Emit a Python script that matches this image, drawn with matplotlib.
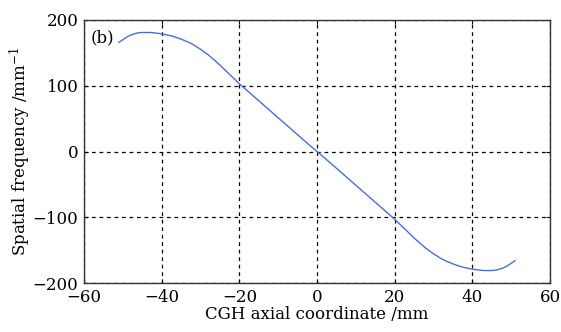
import matplotlib
matplotlib.use("Agg")
import matplotlib.pyplot as plt

x_mm = [-51, -50, -49, -48, -47, -46, -45, -44, -43, -42, -40, -38, -37, -35, -33, -32, -30, -28, -27, -25, -23, -22, -20,
        -17, -14, -11, -8, -5, -2, 0,
        2, 5, 8, 11, 14, 17, 20, 22, 23, 25, 27, 28, 30, 32, 33, 35, 37, 38, 40, 42, 43, 44, 45, 46, 47, 48, 49, 50, 51]
freq = [166, 170, 174, 177, 179, 180.5, 181, 181, 181, 180.5, 179, 176.5, 175, 171, 166, 163, 155.5, 147, 142, 131.5, 120, 114.5, 103,
        87.5, 72, 56.5, 41, 25.5, 10, 0,
        -10, -25.5, -41, -56.5, -72, -87.5, -103, -114.5, -120, -131.5, -142, -147, -155.5, -163, -166, -171, -175, -176.5, -179, -180.5, -181, -181, -181, -180.5, -179, -177, -174, -170, -166]

xticks = [-60, -40, -20, 0, 20, 40, 60]
yticks = [-200, -100, 0, 100, 200]

plt.rcParams['font.family'] = ['DejaVu Serif']
plt.rcParams['mathtext.fontset'] = 'dejavuserif'

fig = plt.figure(figsize=(5.61, 3.32), dpi=100)
ax = fig.add_axes([84/561, 1-283/332, (550-84)/561, (283-20)/332])
ax.plot(x_mm, freq, color='#4a6fd0', lw=1.0)
ax.set_xlim(-60, 60)
ax.set_ylim(-200, 200)
ax.set_xticks(xticks)
ax.set_yticks(yticks)
ax.set_xticklabels([str(t).replace('-', '\u2212') for t in xticks])
ax.set_yticklabels([str(t).replace('-', '\u2212') for t in yticks])
ax.tick_params(direction='in', length=3, width=0.8, labelsize=12, pad=4, top=True, right=True)
ax.grid(True, color='black', linestyle=(0, (3, 3)), lw=0.9)
for s in ax.spines.values():
    s.set_linewidth(1.0)
    s.set_color('#333333')
ax.set_xlabel('CGH axial coordinate /mm', fontsize=12, labelpad=0)
ax.set_ylabel('Spatial frequency /mm$^{-1}$', fontsize=12, labelpad=0)
ax.text(0.015, 0.965, '(b)', transform=ax.transAxes, fontsize=12, va='top', ha='left')
fig.savefig('out.png', dpi=100)
